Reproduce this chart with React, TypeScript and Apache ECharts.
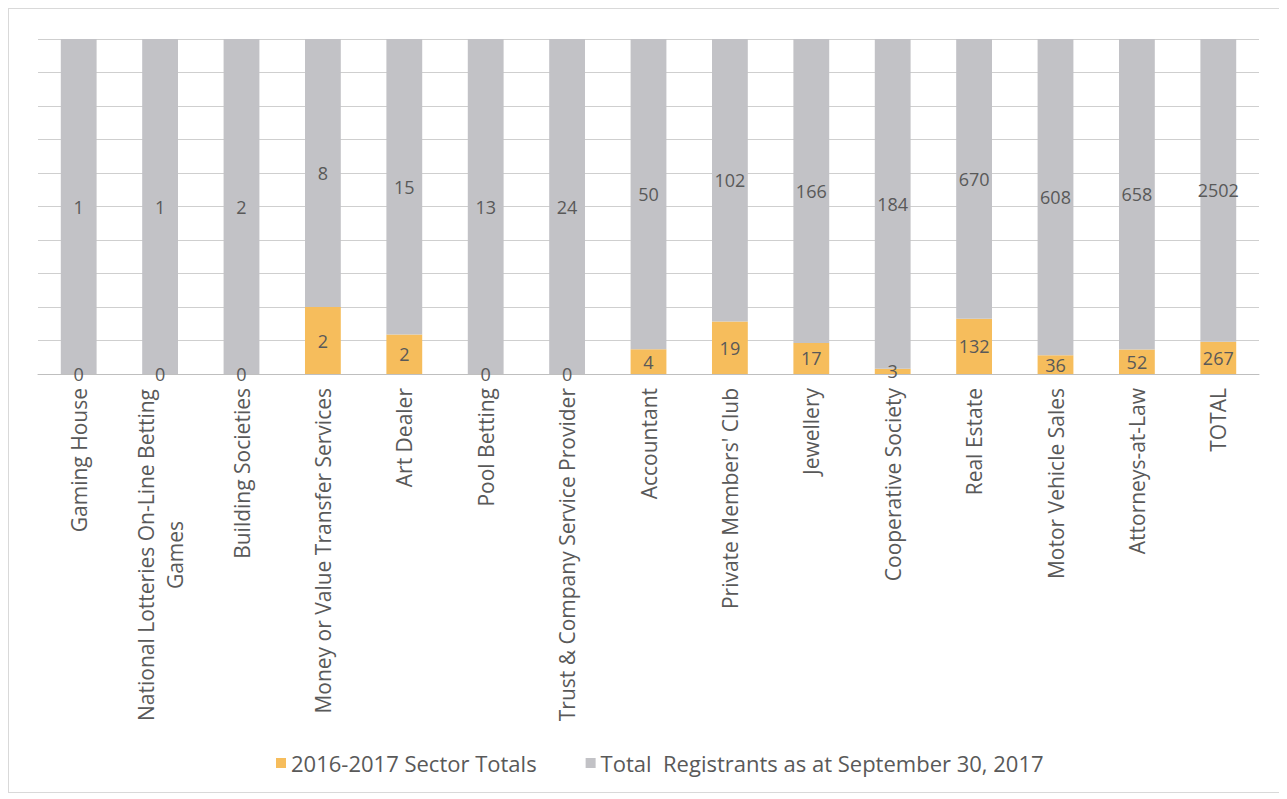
import React, { useEffect, useRef } from "react";
import * as echarts from "echarts";

const categories = [
  "Gaming House",
  "National Lotteries On-Line Betting\nGames",
  "Building Societies",
  "Money or Value Transfer Services",
  "Art Dealer",
  "Pool Betting",
  "Trust & Company Service Provider",
  "Accountant",
  "Private Members' Club",
  "Jewellery",
  "Cooperative Society",
  "Real Estate",
  "Motor Vehicle Sales",
  "Attorneys-at-Law",
  "TOTAL",
];
const sectorTotals = [0, 0, 0, 2, 2, 0, 0, 4, 19, 17, 3, 132, 36, 52, 267];
const totalRegistrants = [1, 1, 2, 8, 15, 13, 24, 50, 102, 166, 184, 670, 608, 658, 2502];
const seriesNames = ["2016-2017 Sector Totals", "Total  Registrants as at September 30, 2017"];

const FONT = "'Open Sans', sans-serif";
const TXT = "#595959";
const FS = 21;

function measure(text: string): number {
  const c = document.createElement("canvas").getContext("2d");
  if (!c) return text.length * 10;
  c.font = `${FS}px 'Open Sans'`;
  return Math.ceil(c.measureText(text).width) + 2;
}

export default function App() {
  const ref = useRef<HTMLDivElement>(null);
  useEffect(() => {
    if (!ref.current) return;
    const chart = echarts.init(ref.current, undefined, { renderer: "svg" });
    const sums = sectorTotals.map((v, i) => v + totalRegistrants[i]);
    const pct = (arr: number[]) =>
      arr.map((v, i) => ({ value: sums[i] ? (v / sums[i]) * 100 : 0, raw: v }));
    const label = {
      show: true,
      position: "inside" as const,
      color: TXT,
      fontSize: 18,
      fontFamily: FONT,
      formatter: (p: any) => String(p.data.raw),
    };
    chart.setOption({
      animation: false,
      textStyle: { fontFamily: FONT },
      grid: { left: 29, right: 21, top: 30, bottom: 418, containLabel: false },
      legend: {
        top: 738,
        left: 262,
        itemWidth: 10,
        itemHeight: 10,
        itemGap: 49,
        icon: "rect",
        textStyle: { color: TXT, fontSize: 22, fontFamily: FONT },
        data: seriesNames,
      },
      xAxis: {
        type: "category",
        data: categories,
        axisTick: { show: false },
        axisLine: { lineStyle: { color: "#BFBFBF" } },
        axisLabel: {
          interval: 0,
          rotate: 90,
          margin: 14,
          color: TXT,
          fontSize: FS,
          fontFamily: FONT,
          lineHeight: 29,
          formatter: (v: string) => {
            const lines = v.split("\n");
            if (lines.length < 2) return v;
            return lines.map((s) => `{a|${s}}`).join("\n");
          },
          rich: {
            a: {
              color: TXT,
              fontSize: FS,
              fontFamily: FONT,
              align: "center",
              width: measure("National Lotteries On-Line Betting"),
              lineHeight: 29,
            },
          },
        },
      },
      yAxis: {
        type: "value",
        min: 0,
        max: 100,
        interval: 10,
        axisLabel: { show: false },
        axisLine: { show: false },
        axisTick: { show: false },
        splitLine: { lineStyle: { color: "#CFCFCF" } },
      },
      series: [
        {
          name: seriesNames[0],
          type: "bar",
          stack: "s",
          barWidth: "44%",
          itemStyle: { color: "#F6BD5C" },
          label,
          data: pct(sectorTotals),
        },
        {
          name: seriesNames[1],
          type: "bar",
          stack: "s",
          barWidth: "44%",
          itemStyle: { color: "#C2C2C6" },
          label,
          data: pct(totalRegistrants),
        },
      ],
    });
    return () => chart.dispose();
  }, []);
  return (
    <div
      style={{
        width: 1271,
        height: 783,
        border: "1px solid #D9D9D9",
        background: "#fff",
      }}
    >
      <div ref={ref} style={{ width: 1271, height: 783 }} />
    </div>
  );
}
